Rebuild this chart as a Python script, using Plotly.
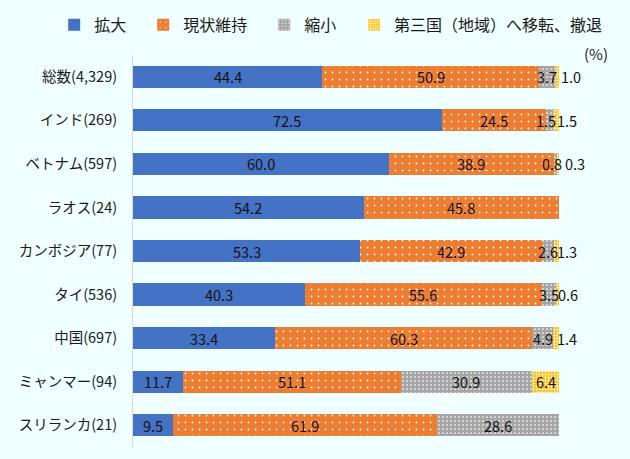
import plotly.graph_objects as go
import numpy as np

categories = ["総数(4,329)", "インド(269)", "ベトナム(597)", "ラオス(24)", "カンボジア(77)",
              "タイ(536)", "中国(697)", "ミャンマー(94)", "スリランカ(21)"]
series_names = ["拡大", "現状維持", "縮小", "第三国（地域）へ移転、撤退"]
expand = [44.4, 72.5, 60.0, 54.2, 53.3, 40.3, 33.4, 11.7, 9.5]
maintain = [50.9, 24.5, 38.9, 45.8, 42.9, 55.6, 60.3, 51.1, 61.9]
shrink = [3.7, 1.5, 0.8, 0.0, 2.6, 3.5, 4.9, 30.9, 28.6]
relocate = [1.0, 1.5, 0.3, 0.0, 1.3, 0.6, 1.4, 6.4, 0.0]

values = [expand, maintain, shrink, relocate]
colors = ["#4472C4", "#ED7D31", "#A5A5A5", "#FFC000"]
patterns = [
    None,
    dict(shape=".", fgcolor="white", bgcolor="#ED7D31", size=7, solidity=0.05, fillmode="replace"),
    dict(shape=".", fgcolor="white", bgcolor="#A5A5A5", size=4, solidity=0.15, fillmode="replace"),
    dict(shape=".", fgcolor="white", bgcolor="#FFC000", size=3, solidity=0.4, fillmode="replace"),
]
# legend placement (paper x) for each series, one legend per entry
legend_x = [-0.185, 0.024, 0.308, 0.519]
# pixel nudges for the small outside labels / gray labels (styling only)
outside_gap = [0, -4, 4, 0, -4, -3, -4, 0, 0]
gray_nudge = [0, -3, -4, 0, 0, 0, 0, 0, 0]

PLOT_L, PLOT_W = 133, 426

fig = go.Figure()
for k, (name, vals, col, pat) in enumerate(zip(series_names, values, colors, patterns)):
    marker = dict(color=col, line=dict(width=0))
    if pat:
        marker["pattern"] = pat
    fig.add_trace(go.Bar(y=categories, x=vals, name=name, orientation="h",
                         marker=marker, hoverinfo="skip",
                         legend="legend" if k == 0 else f"legend{k+1}"))

label_font = dict(family="Noto Sans CJK JP", size=14.5, color="#111111")
annotations = []
cum = np.zeros(len(categories))
for i, vals in enumerate(values):
    v = np.array(vals)
    mids = cum + v / 2
    cum = cum + v
    for j, (c, m, e, x) in enumerate(zip(categories, mids, cum, vals)):
        if x <= 0:
            continue
        t = f"{x:.1f}"
        if i == 3 and x < 5:
            annotations.append(dict(x=min(e, 100), y=c, text=t, xref="x", yref="y",
                                    showarrow=False, xanchor="left", yanchor="middle",
                                    font=label_font, xshift=outside_gap[j]))
        else:
            annotations.append(dict(x=m, y=c, text=t, xref="x", yref="y", showarrow=False,
                                    xanchor="center", yanchor="middle", font=label_font,
                                    xshift=gray_nudge[j] if i == 2 else 0))

annotations.append(dict(text="(%)", xref="paper", yref="paper", x=1.087, y=1.003,
                        xanchor="center", yanchor="middle", showarrow=False,
                        font=dict(size=15)))

legend_common = dict(orientation="h", y=1.120, xanchor="left", yanchor="top",
                     font=dict(size=16), bgcolor="rgba(0,0,0,0)")

fig.update_layout(
    width=630, height=459,
    barmode="stack", bargap=0.49,
    paper_bgcolor="#F0FFFF", plot_bgcolor="#F0FFFF",
    margin=dict(l=PLOT_L, r=630 - PLOT_L - PLOT_W, t=55, b=12, autoexpand=False),
    font=dict(family="Noto Sans CJK JP", color="#1a1a1a"),
    legend=dict(x=legend_x[0], **legend_common),
    legend2=dict(x=legend_x[1], **legend_common),
    legend3=dict(x=legend_x[2], **legend_common),
    legend4=dict(x=legend_x[3], **legend_common),
    showlegend=True,
    xaxis=dict(range=[0, 100], showgrid=False, zeroline=False, showticklabels=False,
               showline=False, fixedrange=True),
    yaxis=dict(categoryorder="array", categoryarray=categories,
               range=[len(categories) - 0.5, -0.5], showgrid=False, zeroline=False,
               showline=True, linecolor="#D9D9D9", linewidth=1, ticks="",
               tickfont=dict(size=14.5), ticklabelstandoff=12, fixedrange=True),
    annotations=annotations,
)

fig.write_html("out.html", config={"displayModeBar": False},
               post_script="document.body.style.margin='0';")
